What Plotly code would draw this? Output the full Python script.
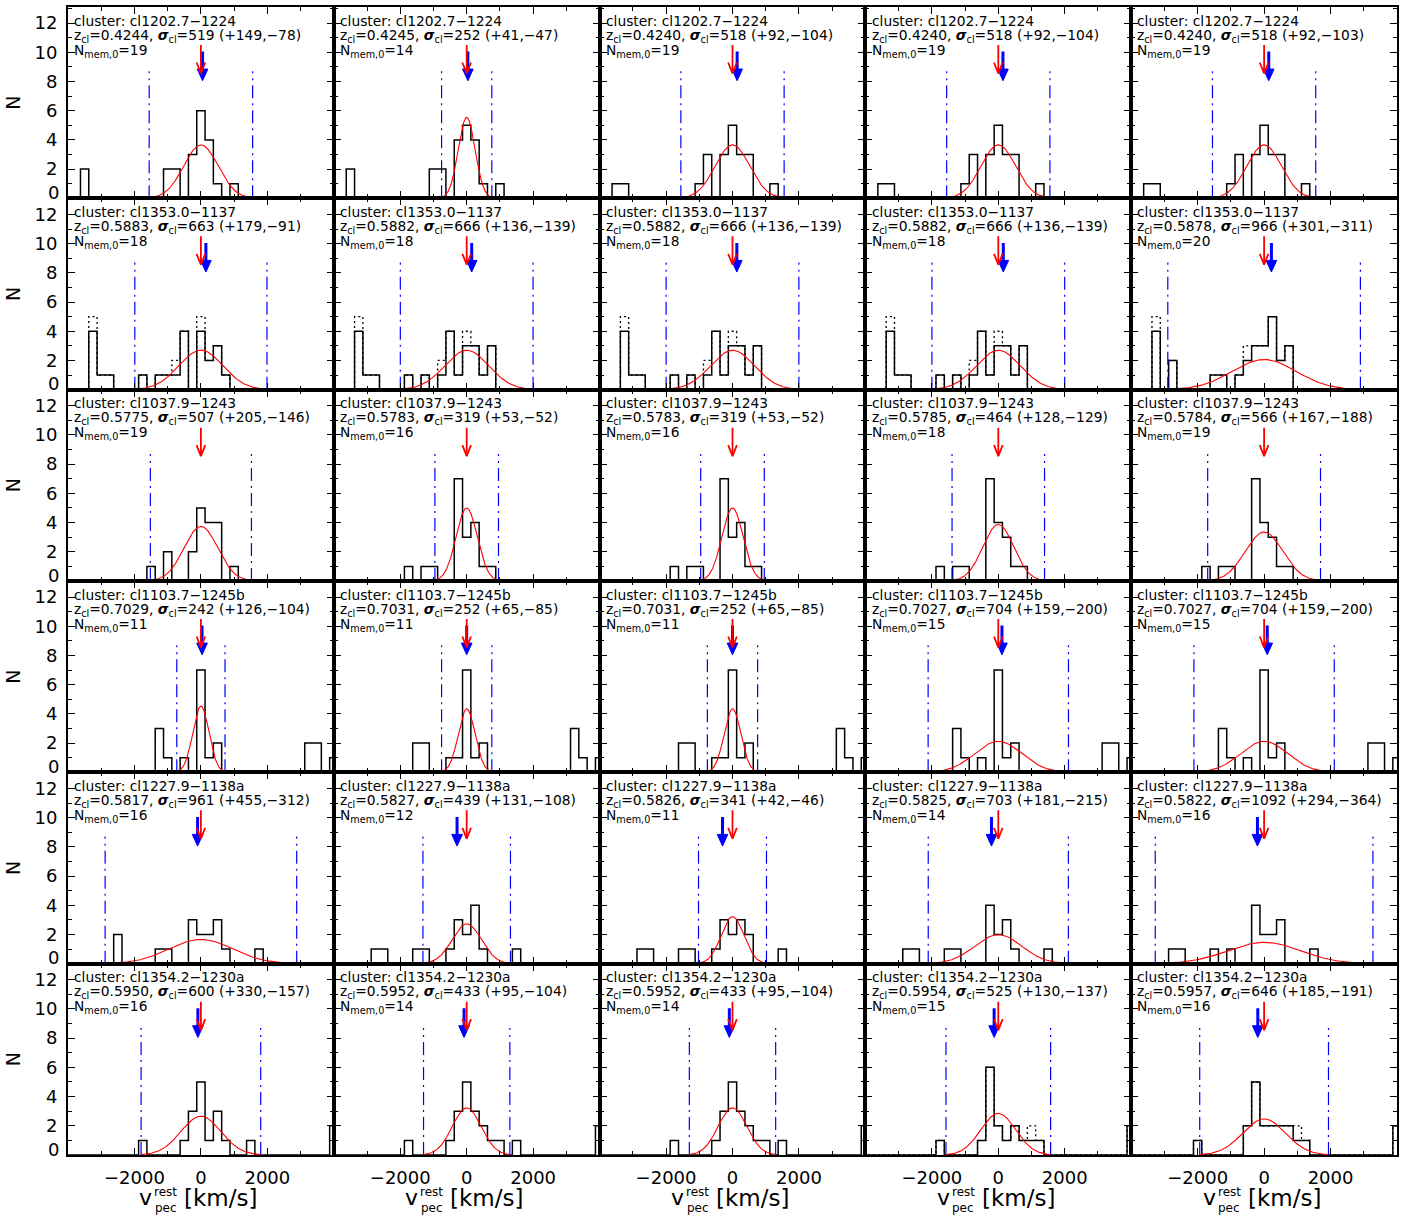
import numpy as np
import plotly.graph_objects as go
from plotly.subplots import make_subplots

# ---------------- data ----------------
CLUSTERS = ["cl1202.7−1224", "cl1353.0−1137", "cl1037.9−1243",
            "cl1103.7−1245b", "cl1227.9−1138a", "cl1354.2−1230a"]

Z_CL = [[0.4244, 0.4245, 0.4240, 0.4240, 0.4240],
        [0.5883, 0.5882, 0.5882, 0.5882, 0.5878],
        [0.5775, 0.5783, 0.5783, 0.5785, 0.5784],
        [0.7029, 0.7031, 0.7031, 0.7027, 0.7027],
        [0.5817, 0.5827, 0.5826, 0.5825, 0.5822],
        [0.5950, 0.5952, 0.5952, 0.5954, 0.5957]]
SIGMA = [[519, 252, 518, 518, 518],
         [663, 666, 666, 666, 966],
         [507, 319, 319, 464, 566],
         [242, 252, 252, 704, 704],
         [961, 439, 341, 703, 1092],
         [600, 433, 433, 525, 646]]
SIG_PLUS = [[149, 41, 92, 92, 92],
            [179, 136, 136, 136, 301],
            [205, 53, 53, 128, 167],
            [126, 65, 65, 159, 159],
            [455, 131, 42, 181, 294],
            [330, 95, 95, 130, 185]]
SIG_MINUS = [[78, 47, 104, 104, 103],
             [91, 139, 139, 139, 311],
             [146, 52, 52, 129, 188],
             [104, 85, 85, 200, 200],
             [312, 108, 46, 215, 364],
             [157, 104, 104, 137, 191]]
N_MEM = [[19, 14, 19, 19, 19],
         [18, 18, 18, 18, 20],
         [19, 16, 16, 18, 19],
         [11, 11, 11, 15, 15],
         [16, 12, 11, 14, 16],
         [16, 14, 14, 15, 16]]
# velocity of the blue arrow (km/s); None = no blue arrow
BLUE_V = [[50, 35, 140, 140, 140],
          [150, 150, 130, 150, 220],
          [None, None, None, None, None],
          [35, 0, 0, 110, 95],
          [-100, -290, -300, -205, -200],
          [-90, -80, -95, -125, -190]]
RED_V = 0.0

BIN_W = 250.0
# histogram bins (centres, km/s) and counts, per row, per column
R1_BINS = [[-3500, -1000, -750, -250, 0, 250, 500, 1000],
           [-3500, -1000, -750, -250, 0, 250, 500, 1000],
           [-3500, -3250, -1000, -750, -250, 0, 250, 500, 1250],
           [-3500, -3250, -1000, -750, -250, 0, 250, 500, 1250],
           [-3500, -3250, -1000, -750, -250, 0, 250, 500, 1250]]
R1_CNTS = [[2, 2, 2, 3, 6, 4, 1, 1],
           [2, 2, 2, 4, 5, 4, 1, 1],
           [1, 1, 1, 3, 3, 5, 3, 3, 1],
           [1, 1, 1, 3, 3, 5, 3, 3, 1],
           [1, 1, 1, 3, 3, 5, 3, 3, 1]]
R2_BINS = [[-3250, -3000, -2750, -1750, -1250, -1000, -750, -500, 0, 250, 500, 750],
           [-3250, -3000, -2750, -1750, -1250, -750, -500, -250, 0, 250, 500, 750],
           [-3250, -3000, -2750, -1750, -1250, -750, -500, -250, 0, 250, 500, 750],
           [-3250, -3000, -2750, -1750, -1250, -750, -500, -250, 0, 250, 500, 750],
           [-3250, -2750, -1500, -1250, -750, -500, -250, 0, 250, 500, 750]]
R2_CNTS = [[4, 1, 1, 1, 1, 1, 1, 4, 4, 2, 3, 1],
           [4, 1, 1, 1, 1, 1, 4, 1, 3, 3, 1, 3],
           [4, 1, 1, 1, 1, 1, 4, 1, 3, 3, 1, 3],
           [4, 1, 1, 1, 1, 1, 4, 1, 3, 3, 1, 3],
           [4, 2, 1, 1, 1, 2, 3, 3, 5, 2, 3]]
R3_BINS = [[-1500, -1000, -250, 0, 250, 500, 1000],
           [-1750, -1250, -1000, -250, 0, 250, 500, 750],
           [-1750, -1250, -1000, -250, 0, 250, 500, 750],
           [-1750, -1250, -1000, -250, 0, 250, 500, 750],
           [-1750, -1250, -1000, -250, 0, 250, 500, 750]]
R3_CNTS = [[1, 2, 2, 5, 4, 4, 1],
           [1, 1, 1, 7, 3, 4, 1, 1],
           [1, 1, 1, 7, 3, 4, 1, 1],
           [1, 1, 1, 7, 4, 3, 1, 1],
           [1, 1, 1, 7, 4, 3, 1, 1]]
R4_BINS = [[-1250, -1000, -500, 0, 250, 500, 3250, 3500, 4000],
           [-1500, -1250, -500, -250, 0, 250, 500, 3250, 3500, 4000],
           [-1500, -1250, -500, -250, 0, 250, 500, 3250, 3500, 4000],
           [-1250, -1000, -500, 0, 250, 500, 3250, 3500, 4000],
           [-1250, -1000, -500, 0, 250, 500, 3250, 3500, 4000]]
R4_CNTS = [[3, 1, 1, 7, 1, 2, 2, 2, 1],
           [2, 2, 1, 1, 7, 1, 2, 3, 1, 1],
           [2, 2, 1, 1, 7, 1, 2, 3, 1, 1],
           [3, 1, 1, 7, 1, 2, 2, 2, 1],
           [3, 1, 1, 7, 1, 2, 2, 2, 1]]
R5_BINS = [[-2500, -1250, -1000, -250, 0, 250, 500, 750, 1750],
           [-2750, -2500, -1500, -1250, -500, -250, 0, 250, 500, 1500],
           [-2750, -2500, -1500, -1250, -500, -250, 0, 250, 500, 1500],
           [-2750, -2500, -1500, -1250, -250, 0, 250, 500, 1500],
           [-2750, -2500, -1500, -1000, -250, 0, 250, 500, 1500]]
R5_CNTS = [[2, 1, 1, 3, 2, 2, 3, 1, 1],
           [1, 1, 1, 1, 1, 3, 2, 4, 1, 1],
           [1, 1, 1, 1, 1, 3, 2, 3, 2, 1],
           [1, 1, 1, 1, 4, 2, 3, 1, 1],
           [1, 1, 1, 1, 4, 2, 2, 3, 1]]
R6_BINS = [[-1750, -500, -250, 0, 250, 500, 750, 1500, 4000],
           [-1750, -500, -250, 0, 250, 500, 750, 1000, 1500, 4000],
           [-1750, -500, -250, 0, 250, 500, 750, 1000, 1500, 4000],
           [-1750, -500, -250, 0, 250, 500, 750, 1000, 1250, 4000],
           [-2000, -500, -250, 0, 250, 500, 750, 1000, 1250, 4000]]
R6_CNTS = [[1, 1, 3, 5, 1, 3, 1, 1, 2],
           [1, 1, 3, 5, 3, 2, 1, 1, 1, 2],
           [1, 1, 3, 5, 3, 2, 1, 1, 1, 2],
           [1, 1, 6, 2, 1, 2, 1, 1, 1, 2],
           [1, 2, 5, 2, 2, 2, 2, 1, 1, 2]]
HIST_BINS = [R1_BINS, R2_BINS, R3_BINS, R4_BINS, R5_BINS, R6_BINS]
HIST_CNTS = [R1_CNTS, R2_CNTS, R3_CNTS, R4_CNTS, R5_CNTS, R6_CNTS]

# dotted histogram: bins where the dotted outline is higher than the solid one
DOT_ROW = [2, 2, 2, 2, 2, 2, 2, 2, 2, 2, 2, 2, 2, 2, 6, 6]
DOT_COL = [1, 1, 1, 2, 2, 2, 3, 3, 3, 4, 4, 4, 5, 5, 4, 5]
DOT_BIN = [-3250, -750, 0, -3250, -750, 0, -3250, -750, 0, -3250, -750, 0, -3250, -500, 1000, 1000]
DOT_CNT = [5, 2, 5, 5, 2, 4, 5, 2, 4, 5, 2, 4, 5, 3, 2, 2]

Y_TICKS = [2, 4, 6, 8, 10, 12]
X_TICKS = [-2000, 0, 2000]
X_TICK_TEXT = ["−2000", "0", "2000"]

# ---------------- layout constants ----------------
W, H = 1413, 1217
ML, MR, MT, MB = 68, 16, 5, 62
NR, NC = 6, 5
XMIN, XMAX = -4000, 4000
YMAX = 13.1
PW, PH = W - ML - MR, H - MT - MB
FONT = "DejaVu Sans"

fig = make_subplots(rows=NR, cols=NC, horizontal_spacing=0, vertical_spacing=0)

centres_all = np.arange(-4250, 4251, BIN_W)


def step_outline(bins, cnts):
    counts = np.zeros(len(centres_all))
    for b, n in zip(bins, cnts):
        counts[np.argmin(np.abs(centres_all - b))] = n
    edges = np.concatenate([centres_all - BIN_W / 2, [centres_all[-1] + BIN_W / 2]])
    xs = np.concatenate([[edges[0]], edges])
    ys = np.concatenate([[0], counts, [0]])
    return xs, ys


annotations = []
for r in range(NR):
    for c in range(NC):
        rr, cc = r + 1, c + 1
        idx = r * NC + c + 1
        sfx = "" if idx == 1 else str(idx)
        sig = SIGMA[r][c]
        n = N_MEM[r][c]
        bins = HIST_BINS[r][c]
        cnts = HIST_CNTS[r][c]

        # dotted histogram (drawn underneath)
        dmask = [i for i in range(len(DOT_ROW)) if DOT_ROW[i] == rr and DOT_COL[i] == cc]
        if dmask:
            dbins = list(bins)
            dcnts = list(cnts)
            for i in dmask:
                if DOT_BIN[i] in dbins:
                    dcnts[dbins.index(DOT_BIN[i])] = DOT_CNT[i]
                else:
                    dbins.append(DOT_BIN[i])
                    dcnts.append(DOT_CNT[i])
            xs, ys = step_outline(dbins, dcnts)
            fig.add_trace(go.Scatter(x=xs, y=ys, mode="lines",
                                     line=dict(color="black", width=1.3, shape="hv", dash="2px,3px"),
                                     hoverinfo="skip", showlegend=False), row=rr, col=cc)

        # solid histogram
        xs, ys = step_outline(bins, cnts)
        fig.add_trace(go.Scatter(x=xs, y=ys, mode="lines",
                                 line=dict(color="black", width=1.5, shape="hv"),
                                 hoverinfo="skip", showlegend=False), row=rr, col=cc)

        # +-3 sigma limits
        for s in (-3 * sig, 3 * sig):
            fig.add_trace(go.Scatter(x=[s, s], y=[0, 8.7], mode="lines",
                                     line=dict(color="blue", width=1.2, dash="13px,5px,2px,5px"),
                                     hoverinfo="skip", showlegend=False), row=rr, col=cc)

        # gaussian
        gx = np.linspace(-3 * sig, 3 * sig, 241)
        amp = n * BIN_W / (np.sqrt(2 * np.pi) * sig)
        gy = amp * np.exp(-0.5 * (gx / sig) ** 2)
        fig.add_trace(go.Scatter(x=gx, y=gy, mode="lines",
                                 line=dict(color="red", width=1.1),
                                 hoverinfo="skip", showlegend=False), row=rr, col=cc)

        # blue arrow
        bv = BLUE_V[r][c]
        if bv is not None:
            fig.add_trace(go.Scatter(x=[bv, bv], y=[10.05, 8.8], mode="lines",
                                     line=dict(color="blue", width=3),
                                     hoverinfo="skip", showlegend=False), row=rr, col=cc)
            fig.add_trace(go.Scatter(x=[bv - 160, bv + 160, bv, bv - 160], y=[8.85, 8.85, 8.05, 8.85],
                                     mode="lines", fill="toself", fillcolor="blue",
                                     line=dict(color="blue", width=1),
                                     hoverinfo="skip", showlegend=False), row=rr, col=cc)
        # red arrow
        fig.add_trace(go.Scatter(x=[RED_V, RED_V], y=[10.5, 8.6], mode="lines",
                                 line=dict(color="red", width=1.8),
                                 hoverinfo="skip", showlegend=False), row=rr, col=cc)
        fig.add_trace(go.Scatter(x=[RED_V - 130, RED_V, RED_V + 130], y=[9.3, 8.55, 9.3], mode="lines",
                                 line=dict(color="red", width=1.8),
                                 hoverinfo="skip", showlegend=False), row=rr, col=cc)

        # texts
        lines = [f"cluster: {CLUSTERS[r]}",
                 f"z<sub>cl</sub>={Z_CL[r][c]:.4f}, <b><i>σ</i></b><sub>cl</sub>={sig} (+{SIG_PLUS[r][c]},−{SIG_MINUS[r][c]})",
                 f"N<sub>mem,0</sub>={n}"]
        ypos = [0.929, 0.851, 0.772]
        for t, yp in zip(lines, ypos):
            annotations.append(dict(text=t, x=0.016, y=yp, xref=f"x{sfx} domain", yref=f"y{sfx} domain",
                                    xanchor="left", yanchor="middle", showarrow=False,
                                    font=dict(family=FONT, size=13.8, color="black")))

        # "0" label of the y axis, raised a little as in the original
        if cc == 1:
            annotations.append(dict(text="0", x=-0.027, y=0.03, xref=f"x{sfx} domain", yref=f"y{sfx} domain",
                                    xanchor="right", yanchor="middle", showarrow=False,
                                    font=dict(family=FONT, size=18, color="black")))

        # axes
        xa = dict(range=[XMIN, XMAX], showline=True, linecolor="black", linewidth=2, mirror="allticks",
                  ticks="inside", ticklen=7, tickwidth=1.3, tickcolor="black",
                  tickvals=X_TICKS, ticktext=X_TICK_TEXT,
                  showticklabels=(rr == NR), showgrid=False, zeroline=False,
                  minor=dict(ticks="inside", ticklen=4, tickwidth=1.2, tickcolor="black", dtick=1000, tick0=0, showgrid=False),
                  tickfont=dict(family=FONT, size=18, color="black"), ticklabelstandoff=5)
        ya = dict(range=[0, YMAX], showline=True, linecolor="black", linewidth=2, mirror="allticks",
                  ticks="inside", ticklen=7, tickwidth=1.3, tickcolor="black",
                  tickvals=Y_TICKS, showticklabels=(cc == 1), showgrid=False, zeroline=False,
                  minor=dict(ticks="inside", ticklen=4, tickwidth=1.2, tickcolor="black", dtick=1, tick0=0, showgrid=False),
                  tickfont=dict(family=FONT, size=18, color="black"), ticklabelstandoff=5)
        fig.update_xaxes(xa, row=rr, col=cc)
        fig.update_yaxes(ya, row=rr, col=cc)


def px2paper(xp, yp):
    return (xp - ML) / PW, (H - MB - yp) / PH


# y titles "N"
for r in range(NR):
    xc, yc = px2paper(13, MT + (r + 0.5) * PH / NR)
    annotations.append(dict(text="N", x=xc, y=yc, xref="paper", yref="paper", textangle=-90,
                            xanchor="center", yanchor="middle", showarrow=False,
                            font=dict(family=FONT, size=19, color="black")))

# x titles
for c in range(NC):
    x0 = ML + (c + 0.5) * PW / NC
    for txt, dx, ypix, size in (("v", -55, 1198, 22), ("rest", -35, 1192, 12),
                                ("pec", -35, 1208, 12), ("[km/s]", 20, 1198, 23)):
        xp, yp = px2paper(x0 + dx, ypix)
        annotations.append(dict(text=txt, x=xp, y=yp, xref="paper", yref="paper",
                                xanchor="center", yanchor="middle", showarrow=False,
                                font=dict(family=FONT, size=size, color="black")))

fig.update_layout(width=W, height=H, margin=dict(l=ML, r=MR, t=MT, b=MB),
                  paper_bgcolor="white", plot_bgcolor="white", showlegend=False,
                  annotations=annotations)

fig.write_html("out.html")
